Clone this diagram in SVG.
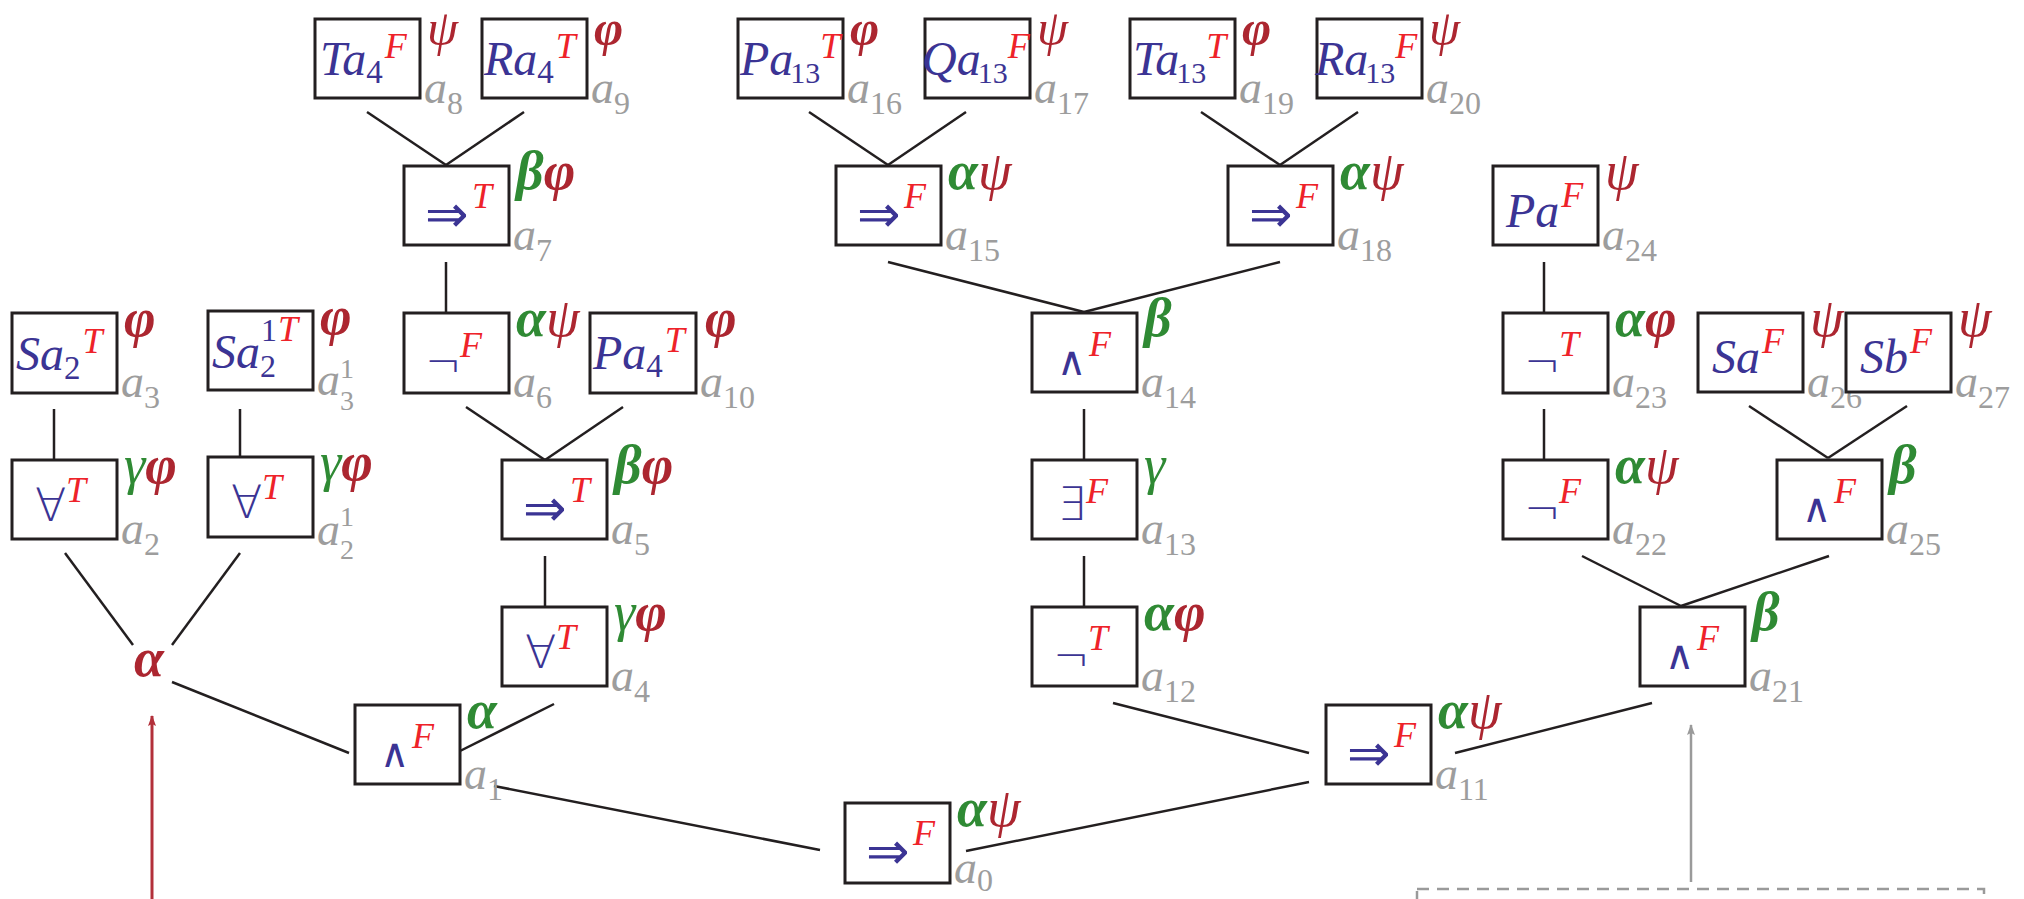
<svg xmlns="http://www.w3.org/2000/svg" width="2024" height="899" viewBox="0 0 2024 899">
<style>
.box{fill:#fff;stroke:#231f20;stroke-width:3}
.c{stroke:#231f20;stroke-width:2.5;fill:none}
.m{font-family:"Liberation Serif",serif;font-style:italic;font-size:48px;fill:#3b3494}
.sb{font-style:normal;font-size:33px}
.sb1{font-style:normal;font-size:32px}
.sb2{font-style:normal;font-size:30px}
.sp{font-style:italic;font-size:36px;fill:#ee2229}
.s{font-family:"DejaVu Sans",sans-serif;fill:#3b3494;font-weight:200}
.arw{font-size:52px}
.fa{font-size:46px}
.ng{font-size:44px}
.wd{font-size:40px}
.su{font-family:"Liberation Serif",serif;font-style:italic;font-size:36px;fill:#ee2229}
.l{font-family:"Liberation Serif",serif;font-style:italic;font-size:54px}
.lt{font-size:50px}
.g{fill:#2f8a34}
.r{fill:#ac2630}
.b{font-weight:bold}
.i{font-family:"Liberation Serif",serif;font-style:italic;font-size:46px;fill:#9d9d9d}
.d{font-style:normal;font-size:32px}
.ds{font-style:normal;font-size:28px}
</style>
<defs>
<marker id="mr" markerWidth="12" markerHeight="10" refX="10" refY="4" orient="auto" markerUnits="userSpaceOnUse"><path d="M0,0 L11,4 L0,8 L2,4 z" fill="#b3303a"/></marker>
<marker id="mg" markerWidth="12" markerHeight="10" refX="10" refY="4" orient="auto" markerUnits="userSpaceOnUse"><path d="M0,0 L11,4 L0,8 L2,4 z" fill="#9a9a9a"/></marker>
</defs>
<g id="connectors">
<line class="c" x1="367" y1="112" x2="446" y2="165"/>
<line class="c" x1="524" y1="112" x2="446" y2="165"/>
<line class="c" x1="446" y1="262" x2="446" y2="313"/>
<line class="c" x1="466" y1="407" x2="545" y2="460"/>
<line class="c" x1="623" y1="407" x2="545" y2="460"/>
<line class="c" x1="545" y1="556" x2="545" y2="607"/>
<line class="c" x1="554" y1="704" x2="456" y2="753"/>
<line class="c" x1="172" y1="682" x2="349" y2="753"/>
<line class="c" x1="65" y1="553" x2="133" y2="645"/>
<line class="c" x1="240" y1="553" x2="172" y2="645"/>
<line class="c" x1="54" y1="409" x2="54" y2="460"/>
<line class="c" x1="240" y1="409" x2="240" y2="457"/>
<line class="c" x1="494" y1="786" x2="820" y2="850"/>
<line class="c" x1="966" y1="851" x2="1309" y2="782"/>
<line class="c" x1="1113" y1="703" x2="1309" y2="753"/>
<line class="c" x1="1455" y1="753" x2="1652" y2="703"/>
<line class="c" x1="1084" y1="556" x2="1084" y2="607"/>
<line class="c" x1="1084" y1="409" x2="1084" y2="460"/>
<line class="c" x1="888" y1="262" x2="1084" y2="312"/>
<line class="c" x1="1280" y1="262" x2="1084" y2="312"/>
<line class="c" x1="809" y1="112" x2="888" y2="165"/>
<line class="c" x1="966" y1="112" x2="888" y2="165"/>
<line class="c" x1="1201" y1="112" x2="1280" y2="165"/>
<line class="c" x1="1358" y1="112" x2="1280" y2="165"/>
<line class="c" x1="1544" y1="262" x2="1544" y2="313" stroke-width="3.5"/>
<line class="c" x1="1544" y1="409" x2="1544" y2="460" stroke-width="3.5"/>
<line class="c" x1="1749" y1="406" x2="1828" y2="458"/>
<line class="c" x1="1907" y1="406" x2="1828" y2="458"/>
<line class="c" x1="1582" y1="556" x2="1681" y2="606"/>
<line class="c" x1="1829" y1="556" x2="1681" y2="606"/>
<line x1="152" y1="899" x2="152" y2="716" stroke="#b3303a" stroke-width="3" marker-end="url(#mr)"/>
<line x1="1691" y1="882" x2="1691" y2="725" stroke="#9a9a9a" stroke-width="2.5" marker-end="url(#mg)"/>
</g>
<text id="alpha-red" class="l b r" x="134" y="676" font-size="62">α</text>
<rect id="dashed-box" x="1417" y="889" width="567" height="40" fill="none" stroke="#9a9a9a" stroke-width="2.5" stroke-dasharray="12 8"/>

<g id="n0"><rect class="box" x="845" y="803" width="105" height="80"/><text class="s arw" x="866" y="869">⇒</text><text class="su" x="913" y="845">F</text><text class="l" x="957" y="826"><tspan class="g b">α</tspan><tspan class="r">ψ</tspan></text><text class="i" x="954" y="883">a<tspan class="d" dy="8">0</tspan></text></g>
<g id="n1"><rect class="box" x="355" y="705" width="105" height="79"/><text class="s wd" x="380" y="767">∧</text><text class="su" x="412" y="748">F</text><text class="l" x="467" y="728"><tspan class="g b">α</tspan></text><text class="i" x="464" y="789">a<tspan class="d" dy="11">1</tspan></text></g>
<g id="n2"><rect class="box" x="12" y="460" width="105" height="79"/><text class="s fa" x="35" y="521">∀</text><text class="su" x="66" y="502">T</text><text class="l" x="124" y="483"><tspan class="g">γ</tspan><tspan class="r b">φ</tspan></text><text class="i" x="121" y="544">a<tspan class="d" dy="11">2</tspan></text></g>
<g id="n2b"><rect class="box" x="208" y="457" width="105" height="80"/><text class="s fa" x="231" y="518">∀</text><text class="su" x="262" y="499">T</text><text class="l" x="320" y="480"><tspan class="g">γ</tspan><tspan class="r b">φ</tspan></text><text class="i" x="317" y="545">a<tspan class="ds" dy="-19">1</tspan><tspan class="ds" dx="-14" dy="33">2</tspan></text></g>
<g id="n3"><rect class="box" x="12" y="313" width="105" height="80"/><text class="m" x="16" y="370">Sa<tspan class="sb" dy="9">2</tspan><tspan class="sp" dx="2" dy="-26">T</tspan></text><text class="l" x="124" y="336"><tspan class="r b">φ</tspan></text><text class="i" x="121" y="397">a<tspan class="d" dy="11">3</tspan></text></g>
<g id="n3b"><rect class="box" x="208" y="311" width="105" height="79"/><text class="m" x="212" y="368">Sa<tspan class="sb1" dy="9">2</tspan><tspan class="sb1" dx="-15" dy="-36">1</tspan><tspan class="sp" dx="1">T</tspan></text><text class="l" x="320" y="334"><tspan class="r b">φ</tspan></text><text class="i" x="317" y="395">a<tspan class="ds" dy="-17">1</tspan><tspan class="ds" dx="-14" dy="32">3</tspan></text></g>
<g id="n4"><rect class="box" x="502" y="607" width="105" height="79"/><text class="s fa" x="525" y="668">∀</text><text class="su" x="556" y="649">T</text><text class="l" x="614" y="630"><tspan class="g">γ</tspan><tspan class="r b">φ</tspan></text><text class="i" x="611" y="691">a<tspan class="d" dy="11">4</tspan></text></g>
<g id="n5"><rect class="box" x="502" y="460" width="105" height="79"/><text class="s arw" x="523" y="526">⇒</text><text class="su" x="570" y="502">T</text><text class="l" x="614" y="483"><tspan class="g b">β</tspan><tspan class="r b">φ</tspan></text><text class="i" x="611" y="544">a<tspan class="d" dy="11">5</tspan></text></g>
<g id="n6"><rect class="box" x="404" y="313" width="105" height="80"/><text class="s ng" x="425" y="378">¬</text><text class="su" x="460" y="357">F</text><text class="l" x="516" y="336"><tspan class="g b">α</tspan><tspan class="r">ψ</tspan></text><text class="i" x="513" y="397">a<tspan class="d" dy="11">6</tspan></text></g>
<g id="n7"><rect class="box" x="404" y="166" width="105" height="79"/><text class="s arw" x="425" y="232">⇒</text><text class="su" x="472" y="208">T</text><text class="l" x="516" y="189"><tspan class="g b">β</tspan><tspan class="r b">φ</tspan></text><text class="i" x="513" y="250">a<tspan class="d" dy="11">7</tspan></text></g>
<g id="n8"><rect class="box" x="315" y="19" width="105" height="79"/><text class="m" x="320" y="75">Ta<tspan class="sb" dy="8">4</tspan><tspan class="sp" dx="2" dy="-25">F</tspan></text><text class="l lt" x="427" y="45"><tspan class="r">ψ</tspan></text><text class="i" x="424" y="103">a<tspan class="d" dy="11">8</tspan></text></g>
<g id="n9"><rect class="box" x="482" y="19" width="105" height="79"/><text class="m" x="484" y="75">Ra<tspan class="sb" dy="8">4</tspan><tspan class="sp" dx="2" dy="-25">T</tspan></text><text class="l lt" x="594" y="45"><tspan class="r b">φ</tspan></text><text class="i" x="591" y="103">a<tspan class="d" dy="11">9</tspan></text></g>
<g id="n10"><rect class="box" x="590" y="313" width="106" height="80"/><text class="m" x="593" y="369">Pa<tspan class="sb" dy="8">4</tspan><tspan class="sp" dx="2" dy="-25">T</tspan></text><text class="l" x="705" y="336"><tspan class="r b">φ</tspan></text><text class="i" x="700" y="397">a<tspan class="d" dy="11">10</tspan></text></g>
<g id="n11"><rect class="box" x="1326" y="705" width="105" height="79"/><text class="s arw" x="1347" y="771">⇒</text><text class="su" x="1394" y="747">F</text><text class="l" x="1438" y="728"><tspan class="g b">α</tspan><tspan class="r">ψ</tspan></text><text class="i" x="1435" y="789">a<tspan class="d" dy="11">11</tspan></text></g>
<g id="n12"><rect class="box" x="1032" y="607" width="105" height="79"/><text class="s ng" x="1053" y="672">¬</text><text class="su" x="1088" y="650">T</text><text class="l" x="1144" y="630"><tspan class="g b">α</tspan><tspan class="r b">φ</tspan></text><text class="i" x="1141" y="691">a<tspan class="d" dy="11">12</tspan></text></g>
<g id="n13"><rect class="box" x="1032" y="460" width="105" height="79"/><text class="s fa" x="1057" y="520">∃</text><text class="su" x="1086" y="503">F</text><text class="l" x="1144" y="483"><tspan class="g">γ</tspan></text><text class="i" x="1141" y="544">a<tspan class="d" dy="11">13</tspan></text></g>
<g id="n14"><rect class="box" x="1032" y="313" width="105" height="79"/><text class="s wd" x="1057" y="375">∧</text><text class="su" x="1089" y="356">F</text><text class="l" x="1144" y="336"><tspan class="g b">β</tspan></text><text class="i" x="1141" y="397">a<tspan class="d" dy="11">14</tspan></text></g>
<g id="n15"><rect class="box" x="836" y="166" width="105" height="79"/><text class="s arw" x="857" y="232">⇒</text><text class="su" x="904" y="208">F</text><text class="l" x="948" y="189"><tspan class="g b">α</tspan><tspan class="r">ψ</tspan></text><text class="i" x="945" y="250">a<tspan class="d" dy="11">15</tspan></text></g>
<g id="n16"><rect class="box" x="738" y="19" width="105" height="79"/><text class="m" x="740" y="75">Pa<tspan class="sb2" dx="-3" dy="8">13</tspan><tspan class="sp" dy="-25">T</tspan></text><text class="l lt" x="850" y="45"><tspan class="r b">φ</tspan></text><text class="i" x="847" y="103">a<tspan class="d" dy="11">16</tspan></text></g>
<g id="n17"><rect class="box" x="925" y="19" width="105" height="79"/><text class="m" x="922" y="75">Qa<tspan class="sb2" dx="-3" dy="8">13</tspan><tspan class="sp" dy="-25">F</tspan></text><text class="l lt" x="1037" y="45"><tspan class="r">ψ</tspan></text><text class="i" x="1034" y="103">a<tspan class="d" dy="11">17</tspan></text></g>
<g id="n18"><rect class="box" x="1228" y="166" width="105" height="79"/><text class="s arw" x="1249" y="232">⇒</text><text class="su" x="1296" y="208">F</text><text class="l" x="1340" y="189"><tspan class="g b">α</tspan><tspan class="r">ψ</tspan></text><text class="i" x="1337" y="250">a<tspan class="d" dy="11">18</tspan></text></g>
<g id="n19"><rect class="box" x="1130" y="19" width="105" height="79"/><text class="m" x="1133" y="75">Ta<tspan class="sb2" dx="-3" dy="8">13</tspan><tspan class="sp" dy="-25">T</tspan></text><text class="l lt" x="1242" y="45"><tspan class="r b">φ</tspan></text><text class="i" x="1239" y="103">a<tspan class="d" dy="11">19</tspan></text></g>
<g id="n20"><rect class="box" x="1317" y="19" width="105" height="79"/><text class="m" x="1315" y="75">Ra<tspan class="sb2" dx="-3" dy="8">13</tspan><tspan class="sp" dy="-25">F</tspan></text><text class="l lt" x="1429" y="45"><tspan class="r">ψ</tspan></text><text class="i" x="1426" y="103">a<tspan class="d" dy="11">20</tspan></text></g>
<g id="n21"><rect class="box" x="1640" y="607" width="105" height="79"/><text class="s wd" x="1665" y="669">∧</text><text class="su" x="1697" y="650">F</text><text class="l" x="1752" y="630"><tspan class="g b">β</tspan></text><text class="i" x="1749" y="691">a<tspan class="d" dy="11">21</tspan></text></g>
<g id="n22"><rect class="box" x="1503" y="460" width="105" height="79"/><text class="s ng" x="1524" y="525">¬</text><text class="su" x="1559" y="503">F</text><text class="l" x="1615" y="483"><tspan class="g b">α</tspan><tspan class="r">ψ</tspan></text><text class="i" x="1612" y="544">a<tspan class="d" dy="11">22</tspan></text></g>
<g id="n23"><rect class="box" x="1503" y="313" width="105" height="80"/><text class="s ng" x="1524" y="378">¬</text><text class="su" x="1559" y="356">T</text><text class="l" x="1615" y="336"><tspan class="g b">α</tspan><tspan class="r b">φ</tspan></text><text class="i" x="1612" y="397">a<tspan class="d" dy="11">23</tspan></text></g>
<g id="n24"><rect class="box" x="1493" y="166" width="105" height="79"/><text class="m" x="1506" y="227">Pa<tspan class="sp" dx="2" dy="-20">F</tspan></text><text class="l" x="1605" y="189"><tspan class="r">ψ</tspan></text><text class="i" x="1602" y="250">a<tspan class="d" dy="11">24</tspan></text></g>
<g id="n25"><rect class="box" x="1777" y="460" width="105" height="79"/><text class="s wd" x="1802" y="522">∧</text><text class="su" x="1834" y="503">F</text><text class="l" x="1889" y="483"><tspan class="g b">β</tspan></text><text class="i" x="1886" y="544">a<tspan class="d" dy="11">25</tspan></text></g>
<g id="n26"><rect class="box" x="1698" y="313" width="105" height="79"/><text class="m" x="1712" y="373">Sa<tspan class="sp" dx="2" dy="-20">F</tspan></text><text class="l" x="1810" y="336"><tspan class="r">ψ</tspan></text><text class="i" x="1807" y="397">a<tspan class="d" dy="11">26</tspan></text></g>
<g id="n27"><rect class="box" x="1846" y="313" width="105" height="79"/><text class="m" x="1860" y="373">Sb<tspan class="sp" dx="2" dy="-20">F</tspan></text><text class="l" x="1958" y="336"><tspan class="r">ψ</tspan></text><text class="i" x="1955" y="397">a<tspan class="d" dy="11">27</tspan></text></g>
</svg>
